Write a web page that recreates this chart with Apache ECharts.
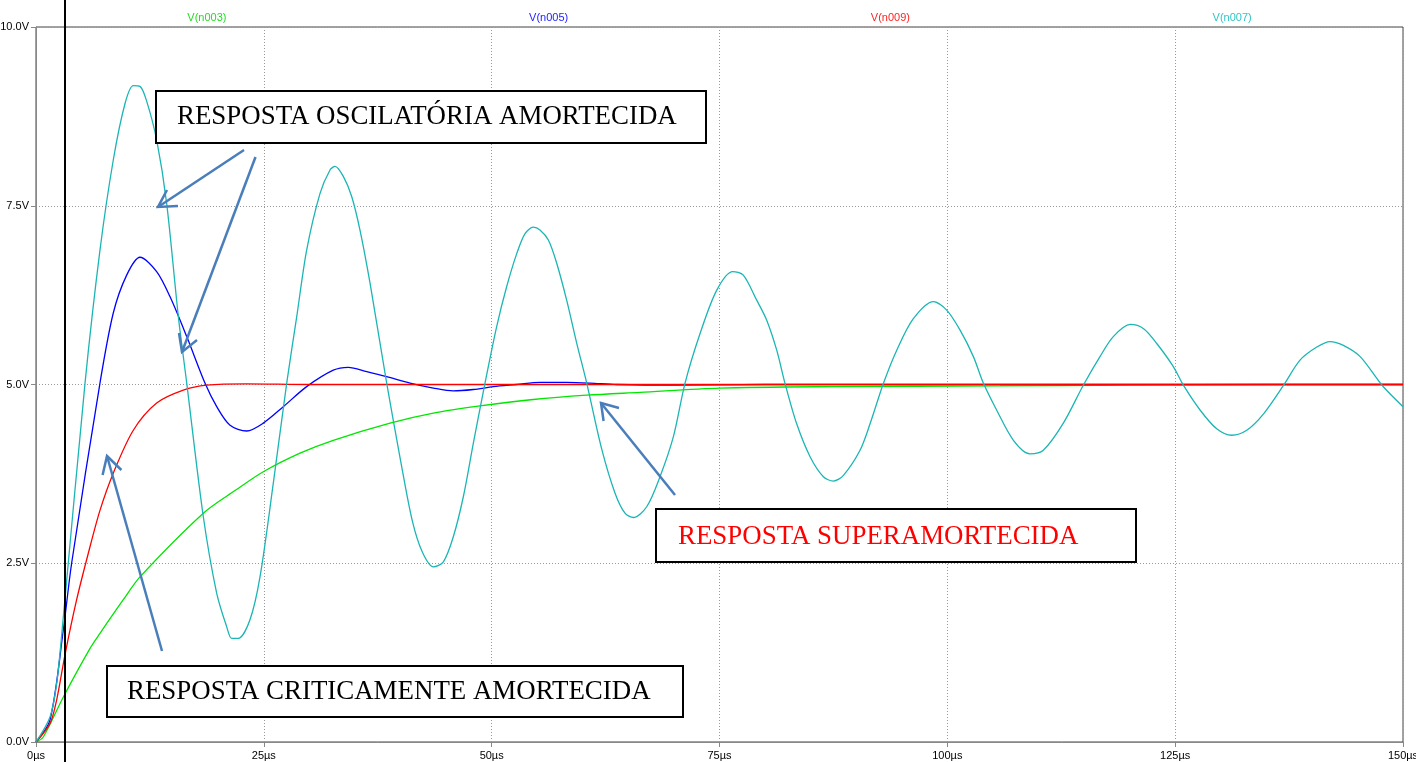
<!DOCTYPE html>
<html>
<head>
<meta charset="utf-8">
<script src="https://cdn.jsdelivr.net/npm/echarts@6/dist/echarts.min.js"></script>
<style>html,body{margin:0;padding:0;background:#fff}#c{width:1416px;height:762px}</style>
</head>
<body>
<div id="c"></div>
<script>
// ---- data (time in µs, voltage in V) ----
const seriesNames = ['V(n003)', 'V(n005)', 'V(n009)', 'V(n007)'];

const tGreen = [0, 0.8, 3.0, 5.93, 7.02, 9.58, 11.41, 18.36, 21.88, 24.94, 28.97, 32.62, 38.85, 43.6, 48.72, 54.57, 60.43, 66.28, 75, 87.5, 105.8, 120, 135, 150];
const vGreen = [0, 0.07, 0.63, 1.31, 1.52, 1.99, 2.31, 3.2, 3.52, 3.78, 4.04, 4.22, 4.46, 4.6, 4.7, 4.79, 4.85, 4.89, 4.95, 4.97, 4.98, 4.99, 5.0, 5.0];

const tBlue = [0, 1.54, 3.0, 3.91, 7.02, 8.48, 9.95, 11.41, 13.24, 14.7, 16.54, 18.54, 19.83, 21.29, 23.12, 24.94, 27.14, 29.7, 32.62, 34.27, 36.29, 38.48, 41.04, 43.6, 45.79, 47.99, 50.18, 52.75, 55.3, 58.23, 60.79, 63.7, 70, 80, 90, 100, 110, 120, 130, 140, 150];
const vBlue = [0, 0.31, 1.57, 2.5, 5.02, 6.0, 6.53, 6.78, 6.58, 6.23, 5.67, 5.02, 4.69, 4.43, 4.35, 4.46, 4.69, 4.97, 5.2, 5.24, 5.18, 5.11, 5.02, 4.95, 4.91, 4.93, 4.97, 5.0, 5.03, 5.03, 5.02, 5.0, 4.99, 5.0, 5.0, 5.0, 5.0, 5.0, 5.0, 5.0, 5.0];

const tRed = [0, 1.54, 2.27, 3.18, 4.46, 5.74, 7.02, 8.48, 10.68, 13.24, 16.16, 18.73, 23.1, 30, 40, 60, 80, 100, 120, 150];
const vRed = [0, 0.26, 0.59, 1.22, 1.99, 2.64, 3.24, 3.76, 4.36, 4.74, 4.92, 4.99, 5.01, 5.0, 5.0, 5.0, 5.0, 5.0, 5.0, 5.0];

const tTeal = [0, 1.54, 2.27, 3.0, 5.38, 7.02, 8.48, 9.77, 10.68, 11.41, 12.15, 13.24, 14.34, 15.62, 16.54, 18.36, 19.83, 20.93, 21.47, 22.2, 23.48, 24.58, 26.04, 27.51, 28.61, 29.7, 31.16, 32.26, 32.81, 33.72, 34.64, 35.55, 36.65, 38.48, 40.0, 41.28, 42.38, 43.6, 44.7, 45.79, 46.89, 47.99, 49.27, 50.55, 51.65, 52.75, 53.66, 54.57, 55.3, 56.22, 57.13, 58.23, 59.33, 60.43, 62.07, 63.54, 64.63, 65.55, 67.01, 68.47, 69.94, 71.22, 72.86, 74.7, 76.45, 77.61, 79.08, 80.18, 81.28, 82.2, 83.47, 84.94, 86.4, 87.5, 88.6, 90.42, 91.52, 93.0, 94.45, 96.27, 98.47, 99.93, 101.4, 102.86, 103.95, 105.42, 107.25, 109.07, 110.53, 112.73, 114.92, 116.75, 118.21, 120.08, 121.54, 123.0, 124.8, 125.9, 127.75, 129.56, 131.2, 132.85, 134.7, 136.9, 138.7, 140.5, 142.0, 143.4, 145.3, 147.7, 150.0];
const vTeal = [0, 0.35, 0.82, 1.75, 5.02, 6.88, 8.14, 8.93, 9.18, 9.17, 8.96, 8.42, 7.53, 5.95, 5.02, 3.15, 2.08, 1.61, 1.45, 1.45, 1.71, 2.31, 3.62, 5.02, 5.95, 6.88, 7.67, 8.0, 8.05, 7.91, 7.63, 7.16, 6.42, 5.02, 3.94, 3.1, 2.66, 2.45, 2.52, 2.87, 3.43, 4.18, 5.02, 5.81, 6.37, 6.83, 7.11, 7.2, 7.16, 7.02, 6.7, 6.18, 5.58, 5.02, 4.1, 3.48, 3.2, 3.14, 3.29, 3.71, 4.27, 5.02, 5.71, 6.32, 6.58, 6.53, 6.18, 5.9, 5.48, 5.01, 4.45, 3.99, 3.71, 3.65, 3.73, 4.08, 4.45, 5.02, 5.48, 5.92, 6.16, 6.04, 5.76, 5.39, 5.02, 4.64, 4.22, 4.03, 4.08, 4.46, 4.99, 5.39, 5.67, 5.84, 5.78, 5.57, 5.25, 4.99, 4.64, 4.38, 4.29, 4.36, 4.59, 4.99, 5.34, 5.52, 5.6, 5.55, 5.39, 4.99, 4.69];

const xMin = 0, xMax = 150, xStep = 25;
const yMin = 0, yMax = 10, yStep = 2.5;

const annotations = [
  { text: 'RESPOSTA OSCILATÓRIA AMORTECIDA', color: '#000' },
  { text: 'RESPOSTA CRITICAMENTE AMORTECIDA', color: '#000' },
  { text: 'RESPOSTA SUPERAMORTECIDA', color: '#ff0000' }
];

// ---- styles / layout ----
const colors = ['#00e600', '#0000ff', '#ff0000', '#1cb5b5'];
const labelColors = ['#22dd22', '#2222ff', '#ff2222', '#33c4c4'];
const G = { left: 36, top: 27, right: 13, bottom: 20 };
const W = 1416, H = 762;

function pairs(t, v) { return t.map((x, i) => [x, v[i]]); }
const allT = [tGreen, tBlue, tRed, tTeal];
const allV = [vGreen, vBlue, vRed, vTeal];

const chart = echarts.init(document.getElementById('c'), null, { renderer: 'canvas' });

const boxes = [
  { x: 156, y: 91, w: 550, h: 52, tx: 177, ty: 117 },
  { x: 107, y: 666, w: 576, h: 51, tx: 127, ty: 692 },
  { x: 656, y: 509, w: 480, h: 53, tx: 678, ty: 537 }
];
const arrows = [
  { line: [[244, 150], [158, 207]], head: [[167, 190], [158, 207], [178, 206]] },
  { line: [[255.5, 157], [182, 352]], head: [[179, 333], [182, 352], [197, 340]] },
  { line: [[162, 651], [107, 456]], head: [[102.6, 475], [107, 456], [121.4, 470]] },
  { line: [[675, 495], [601, 403]], head: [[603.6, 421], [601, 403], [619, 408]] }
];

const graphics = [];
const plotW = W - G.left - G.right;
seriesNames.forEach((n, i) => {
  graphics.push({
    type: 'text', x: G.left + plotW * (i + 0.5) / 4, y: 18, z: 10,
    style: { text: n, fill: labelColors[i], font: '11px "Liberation Sans", Arial, sans-serif', align: 'center', verticalAlign: 'middle' }
  });
});
graphics.push({ type: 'line', z: 20, shape: { x1: 65, y1: 0, x2: 65, y2: H }, style: { stroke: '#000', lineWidth: 2 } });
boxes.forEach((b, i) => {
  graphics.push({ type: 'rect', z: 30, shape: { x: b.x, y: b.y, width: b.w, height: b.h }, style: { fill: '#fff', stroke: '#000', lineWidth: 2 } });
  graphics.push({
    type: 'text', z: 31, x: b.tx, y: b.ty,
    style: { text: annotations[i].text, fill: annotations[i].color, font: '26.9px "Liberation Serif", "Times New Roman", serif', align: 'left', verticalAlign: 'middle' }
  });
});
arrows.forEach(a => {
  graphics.push({ type: 'polyline', z: 40, shape: { points: a.line }, style: { stroke: '#4a7ebb', lineWidth: 2.5, fill: null } });
  graphics.push({ type: 'polyline', z: 40, shape: { points: a.head }, style: { stroke: '#4a7ebb', lineWidth: 2.5, fill: null } });
});

const axisFont = { fontSize: 11, color: '#000', fontFamily: '"Liberation Sans", Arial, sans-serif' };

chart.setOption({
  animation: false,
  backgroundColor: '#fff',
  grid: { left: G.left, top: G.top, right: G.right, bottom: G.bottom, outerBoundsMode: 'none', containLabel: false, show: true, borderColor: '#444', borderWidth: 1, backgroundColor: 'transparent' },
  xAxis: {
    type: 'value', min: xMin, max: xMax, interval: xStep,
    axisLine: { show: true, lineStyle: { color: '#888', width: 1 } },
    axisTick: { show: true, length: 5, lineStyle: { color: '#888' } },
    axisLabel: Object.assign({ margin: 8, formatter: v => v + 'µs' }, axisFont),
    splitLine: { show: true, lineStyle: { type: [1, 2], color: '#999', width: 1 } }
  },
  yAxis: {
    type: 'value', min: yMin, max: yMax, interval: yStep,
    axisLine: { show: true, lineStyle: { color: '#888', width: 1 } },
    axisTick: { show: true, length: 5, lineStyle: { color: '#888' } },
    axisLabel: Object.assign({ margin: 7, formatter: v => v.toFixed(1) + 'V' }, axisFont),
    splitLine: { show: true, lineStyle: { type: [1, 2], color: '#999', width: 1 } }
  },
  series: seriesNames.map((n, i) => ({
    name: n, type: 'line', data: pairs(allT[i], allV[i]), showSymbol: false, symbol: 'none',
    smooth: 0.3, lineStyle: { color: colors[i], width: 1.3 }, z: 2 + i, silent: true
  })),
  graphic: graphics
});
</script>
</body>
</html>
